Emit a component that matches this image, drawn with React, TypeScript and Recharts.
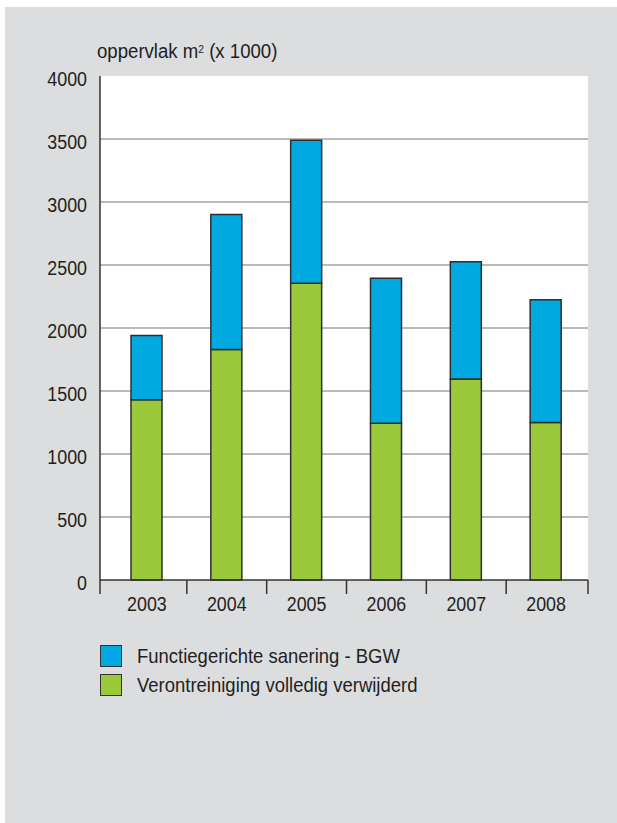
import React from 'react';
import { BarChart, Bar, XAxis, YAxis, CartesianGrid } from 'recharts';

const years = ['2003', '2004', '2005', '2006', '2007', '2008'];
const volledig = [1430, 1830, 2355, 1245, 1595, 1250];
const bgw = [510, 1070, 1135, 1150, 930, 975];
const yTicks = [0, 500, 1000, 1500, 2000, 2500, 3000, 3500, 4000];
const seriesNames = ['Functiegerichte sanering - BGW', 'Verontreiniging volledig verwijderd'];
const seriesColors = ['#00a9e0', '#9aca3c'];

const data = years.map((y, i) => ({ year: y, volledig: volledig[i], bgw: bgw[i] }));

const FONT = '"Liberation Sans", Arial, sans-serif';
const TEXT = '#231f20';
const SQ = 0.85;
const PAD_L = 7;
const PAD_R = 2;

const XTick = (props: any) => {
  const { x, y, payload, index } = props;
  const half = payload && payload.offset ? payload.offset : 0;
  const first = index === 0;
  const last = index === years.length - 1;
  const lx = first ? x - half - PAD_L : x - half;
  return (
    <g>
      <line x1={lx} x2={lx} y1={y} y2={y + 14} stroke="#333" strokeWidth={1.5} />
      {last && <line x1={x + half + PAD_R} x2={x + half + PAD_R} y1={y} y2={y + 14} stroke="#333" strokeWidth={1.5} />}
      <text
        x={0}
        y={0}
        transform={`translate(${x},${y + 23}) scale(${SQ},1)`}
        textAnchor="middle"
        dominantBaseline="central"
        fill={TEXT}
        fontSize={21}
        fontFamily={FONT}
      >
        {payload.value}
      </text>
    </g>
  );
};

const YTick = (props: any) => {
  const { x, y, payload } = props;
  return (
    <text
      x={0}
      y={0}
      transform={`translate(${x},${y + 2}) scale(${SQ},1)`}
      textAnchor="end"
      dominantBaseline="central"
      fill={TEXT}
      fontSize={21}
      fontFamily={FONT}
    >
      {payload.value}
    </text>
  );
};

export default function App() {
  return (
    <div style={{ position: 'absolute', left: 0, top: 0, width: 617, height: 823, background: '#ffffff', fontFamily: FONT }}>
      <div style={{ position: 'absolute', left: 5, top: 7, width: 612, height: 816, background: '#dcdddf' }} />
      <div style={{ position: 'absolute', left: 97, top: 39, fontSize: 20, color: TEXT, whiteSpace: 'nowrap', lineHeight: '24px', transform: 'scaleX(0.93)', transformOrigin: 'left' }}>
        oppervlak m<sup style={{ fontSize: 11, verticalAlign: 'top', position: 'relative', top: -2 }}>2</sup> (x 1000)
      </div>
      <div style={{ position: 'absolute', left: 0, top: 0 }}>
        <BarChart
          width={617}
          height={823}
          data={data}
          margin={{ top: 76, right: 29, bottom: 213, left: 40 }}
          barSize={31}
        >
          <CartesianGrid
            vertical={false}
            stroke="#a3a3a3"
            strokeWidth={1.5}
            fill="#ffffff"
            fillOpacity={1}
            horizontalValues={[500, 1000, 1500, 2000, 2500, 3000, 3500]}
          />
          <XAxis
            dataKey="year"
            height={30}
            padding={{ left: PAD_L, right: PAD_R }}
            tickLine={false}
            tickSize={0}
            tickMargin={0}
            axisLine={{ stroke: '#333', strokeWidth: 1.5 }}
            tick={<XTick />}
            interval={0}
          />
          <YAxis
            width={60}
            domain={[0, 4000]}
            ticks={yTicks}
            interval={0}
            tickLine={false}
            tickSize={4}
            tickMargin={9}
            axisLine={{ stroke: '#333', strokeWidth: 1.5 }}
            tick={<YTick />}
          />
          <Bar dataKey="volledig" stackId="a" fill={seriesColors[1]} stroke="#2f2f2f" strokeWidth={1.5} isAnimationActive={false} />
          <Bar dataKey="bgw" stackId="a" fill={seriesColors[0]} stroke="#2f2f2f" strokeWidth={1.5} isAnimationActive={false} />
        </BarChart>
      </div>
      {seriesNames.map((name, i) => (
        <div key={name} style={{ position: 'absolute', left: 100, top: 645 + i * 29, height: 22, display: 'flex', alignItems: 'center' }}>
          <div style={{ width: 22, height: 22, background: seriesColors[i], border: '1px solid #333', boxSizing: 'border-box' }} />
          <span style={{ marginLeft: 15, fontSize: 21, color: TEXT, whiteSpace: 'nowrap', display: 'inline-block', transform: 'scaleX(0.88)', transformOrigin: 'left' }}>{name}</span>
        </div>
      ))}
    </div>
  );
}
